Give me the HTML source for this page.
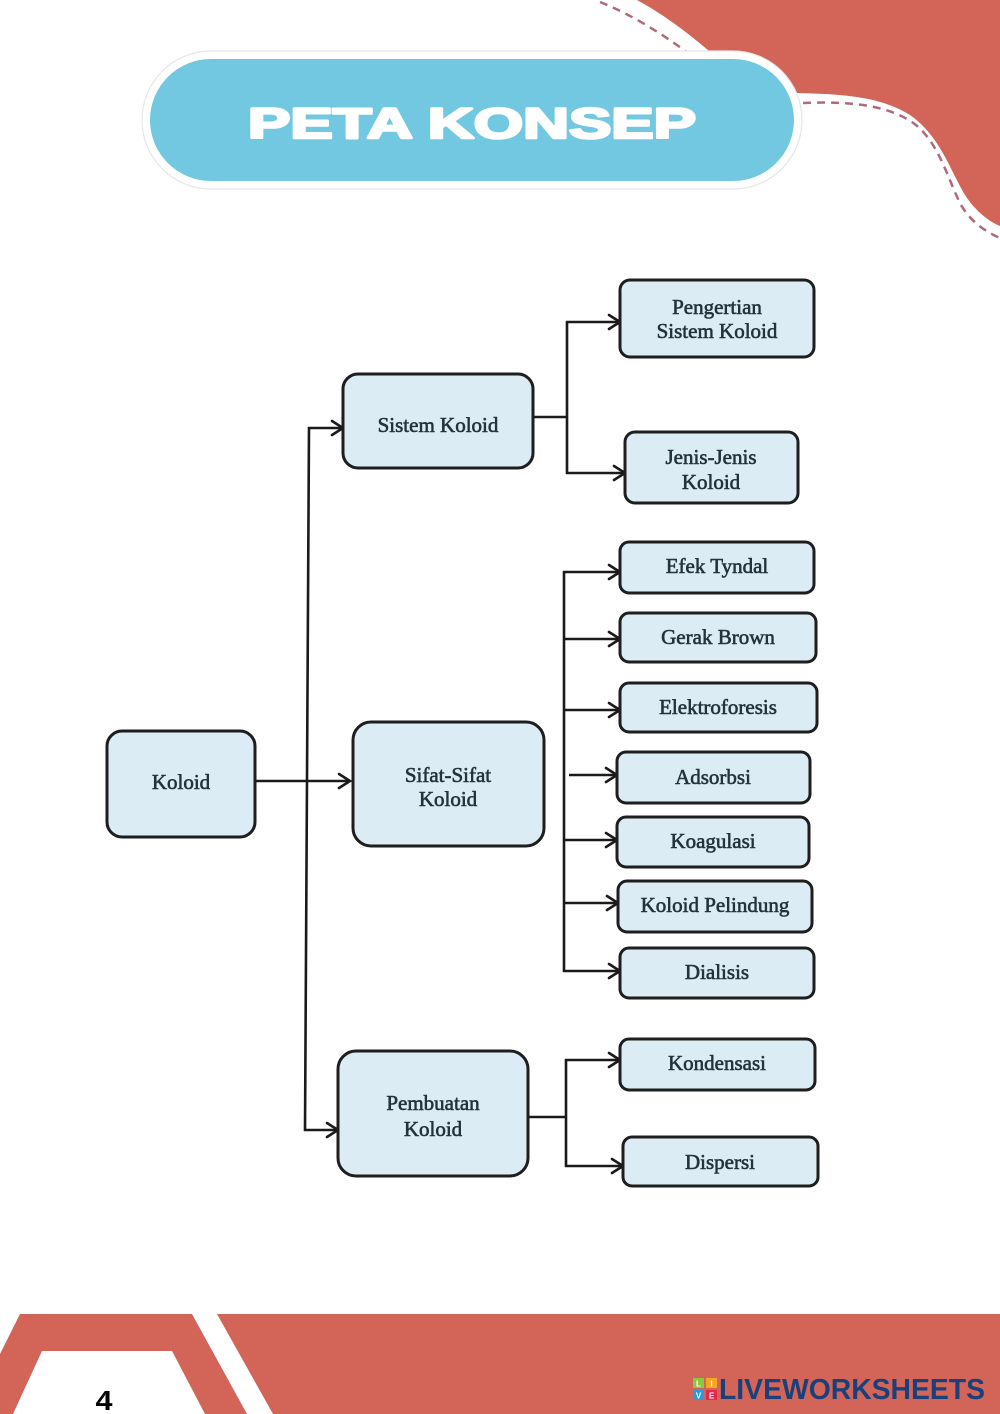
<!DOCTYPE html>
<html>
<head>
<meta charset="utf-8">
<style>
  html, body { margin: 0; padding: 0; background: #ffffff; }
  body { width: 1000px; height: 1414px; overflow: hidden; }
  svg { display: block; }
  .bx { fill: #dcecf4; stroke: #1e1e1e; stroke-width: 3; }
  .lbl { font-family: "Liberation Serif", "DejaVu Serif", serif; font-size: 21px; fill: #24333a; stroke: #24333a; stroke-width: 0.6; text-anchor: middle; }
  .ln { fill: none; stroke: #1a1a1a; stroke-width: 2.6; stroke-linecap: butt; stroke-linejoin: miter; }
  .ah { fill: none; stroke: #1a1a1a; stroke-width: 2.6; stroke-linecap: round; stroke-linejoin: miter; }
</style>
</head>
<body>
<svg width="1000" height="1414" viewBox="0 0 1000 1414" xmlns="http://www.w3.org/2000/svg">
  <!-- Top-right red shape -->
  <path d="M637,0 C670,18 705,45 740,80 L797,93 C840,94 880,96 910,115 C940,136 950,170 965,195 C976,212 990,222 1000,226 L1000,0 Z" fill="#d36558"/>
  <!-- dashed decorative lines -->
  <path d="M600,2 C630,14 660,32 692,56" fill="none" stroke="#b06a78" stroke-width="2.5" stroke-dasharray="8 6"/>
  <path d="M803,103 C850,101 890,105 916,125 C940,145 948,180 961,205 C971,222 986,232 1000,238" fill="none" stroke="#b06a78" stroke-width="2.5" stroke-dasharray="8 6"/>

  <!-- Title pill -->
  <rect x="142" y="51" width="660" height="138" rx="69" ry="69" fill="#ffffff" stroke="#e6e6e6" stroke-width="1.2"/>
  <rect x="150" y="59" width="644" height="122" rx="61" ry="61" fill="#72c8e1"/>
  <text x="472" y="138" font-family="Liberation Sans, Arial, sans-serif" font-weight="bold" font-size="43" fill="#ffffff" stroke="#ffffff" stroke-width="2.6" stroke-linejoin="round" textLength="448" lengthAdjust="spacingAndGlyphs" text-anchor="middle">PETA KONSEP</text>

  <!-- Connectors -->
  <line class="ln" x1="255" y1="781" x2="349" y2="781"/>
  <path class="ah" d="M339,774 L350,781 L339,788"/>
  <line class="ln" x1="309" y1="427" x2="305" y2="1131"/>
  <line class="ln" x1="308" y1="428" x2="342" y2="428"/>
  <path class="ah" d="M332,421 L343,428 L332,435"/>
  <line class="ln" x1="304" y1="1130" x2="337" y2="1130"/>
  <path class="ah" d="M327,1123 L338,1130 L327,1137"/>

  <line class="ln" x1="533" y1="417" x2="567" y2="417"/>
  <line class="ln" x1="567" y1="321" x2="567" y2="474"/>
  <line class="ln" x1="566" y1="322" x2="619" y2="322"/>
  <path class="ah" d="M609,315 L620,322 L609,329"/>
  <line class="ln" x1="566" y1="473" x2="624" y2="473"/>
  <path class="ah" d="M614,466 L625,473 L614,480"/>

  <line class="ln" x1="564" y1="571" x2="564" y2="972"/>
  <line class="ln" x1="563" y1="572" x2="619" y2="572"/>
  <path class="ah" d="M609,565 L620,572 L609,579"/>
  <line class="ln" x1="563" y1="639" x2="619" y2="639"/>
  <path class="ah" d="M609,632 L620,639 L609,646"/>
  <line class="ln" x1="563" y1="710" x2="619" y2="710"/>
  <path class="ah" d="M609,703 L620,710 L609,717"/>
  <line class="ln" x1="569" y1="775" x2="616" y2="775"/>
  <path class="ah" d="M606,768 L617,775 L606,782"/>
  <line class="ln" x1="563" y1="840" x2="616" y2="840"/>
  <path class="ah" d="M606,833 L617,840 L606,847"/>
  <line class="ln" x1="563" y1="903" x2="617" y2="903"/>
  <path class="ah" d="M607,896 L618,903 L607,910"/>
  <line class="ln" x1="563" y1="971" x2="619" y2="971"/>
  <path class="ah" d="M609,964 L620,971 L609,978"/>

  <line class="ln" x1="528" y1="1117" x2="566" y2="1117"/>
  <line class="ln" x1="566" y1="1059" x2="566" y2="1167"/>
  <line class="ln" x1="565" y1="1060" x2="619" y2="1060"/>
  <path class="ah" d="M609,1053 L620,1060 L609,1067"/>
  <line class="ln" x1="565" y1="1166" x2="622" y2="1166"/>
  <path class="ah" d="M612,1159 L623,1166 L612,1173"/>

  <!-- Boxes -->
  <rect class="bx" x="107" y="731" width="148" height="106" rx="15"/>
  <text class="lbl" x="181" y="789">Koloid</text>

  <rect class="bx" x="343" y="374" width="190" height="94" rx="15"/>
  <text class="lbl" x="438" y="432">Sistem Koloid</text>

  <rect class="bx" x="353" y="722" width="191" height="124" rx="18"/>
  <text class="lbl" x="448" y="782">Sifat-Sifat</text>
  <text class="lbl" x="448" y="806">Koloid</text>

  <rect class="bx" x="338" y="1051" width="190" height="125" rx="18"/>
  <text class="lbl" x="433" y="1110">Pembuatan</text>
  <text class="lbl" x="433" y="1136">Koloid</text>

  <rect class="bx" x="620" y="280" width="194" height="77" rx="10"/>
  <text class="lbl" x="717" y="314">Pengertian</text>
  <text class="lbl" x="717" y="338">Sistem Koloid</text>

  <rect class="bx" x="625" y="432" width="173" height="71" rx="10"/>
  <text class="lbl" x="711" y="464">Jenis-Jenis</text>
  <text class="lbl" x="711" y="489">Koloid</text>

  <rect class="bx" x="620" y="542" width="194" height="51" rx="9"/>
  <text class="lbl" x="717" y="573">Efek Tyndal</text>

  <rect class="bx" x="620" y="613" width="196" height="49" rx="9"/>
  <text class="lbl" x="718" y="644">Gerak Brown</text>

  <rect class="bx" x="620" y="683" width="197" height="49" rx="9"/>
  <text class="lbl" x="718" y="714">Elektroforesis</text>

  <rect class="bx" x="617" y="752" width="193" height="51" rx="9"/>
  <text class="lbl" x="713" y="784">Adsorbsi</text>

  <rect class="bx" x="617" y="817" width="192" height="50" rx="9"/>
  <text class="lbl" x="713" y="848">Koagulasi</text>

  <rect class="bx" x="618" y="881" width="194" height="51" rx="9"/>
  <text class="lbl" x="715" y="912">Koloid Pelindung</text>

  <rect class="bx" x="620" y="948" width="194" height="50" rx="9"/>
  <text class="lbl" x="717" y="979">Dialisis</text>

  <rect class="bx" x="620" y="1039" width="195" height="51" rx="9"/>
  <text class="lbl" x="717" y="1070">Kondensasi</text>

  <rect class="bx" x="623" y="1137" width="195" height="49" rx="9"/>
  <text class="lbl" x="720" y="1169">Dispersi</text>

  <!-- Footer -->
  <polygon points="20,1314 192,1314 247,1414 205,1414 172,1351 42,1351 13,1414 0,1414 0,1354" fill="#d36558"/>
  <polygon points="217,1314 1000,1314 1000,1414 273,1414" fill="#d36558"/>
  <text x="104" y="1410" font-family="Liberation Sans, Arial, sans-serif" font-weight="bold" font-size="28" fill="#000000" text-anchor="middle" textLength="17" lengthAdjust="spacingAndGlyphs">4</text>

  <!-- Liveworksheets logo -->
  <rect x="693" y="1378" width="11" height="10" fill="#8dc63f"/>
  <rect x="706" y="1378" width="11" height="10" fill="#f5a623"/>
  <rect x="693" y="1390" width="11" height="10" fill="#2f9bd6"/>
  <rect x="706" y="1390" width="11" height="10" fill="#e5294b"/>
  <text x="698.5" y="1386.5" font-family="Liberation Sans, sans-serif" font-weight="bold" font-size="8" fill="#ffffff" text-anchor="middle">L</text>
  <text x="711.5" y="1386.5" font-family="Liberation Sans, sans-serif" font-weight="bold" font-size="8" fill="#ffffff" text-anchor="middle">I</text>
  <text x="698.5" y="1398.5" font-family="Liberation Sans, sans-serif" font-weight="bold" font-size="8" fill="#ffffff" text-anchor="middle">V</text>
  <text x="711.5" y="1398.5" font-family="Liberation Sans, sans-serif" font-weight="bold" font-size="8" fill="#ffffff" text-anchor="middle">E</text>
  <text x="719" y="1399" font-family="Liberation Sans, Arial, sans-serif" font-weight="bold" font-size="29" fill="#1b4079" textLength="266" lengthAdjust="spacingAndGlyphs">LIVEWORKSHEETS</text>
</svg>
</body>
</html>
